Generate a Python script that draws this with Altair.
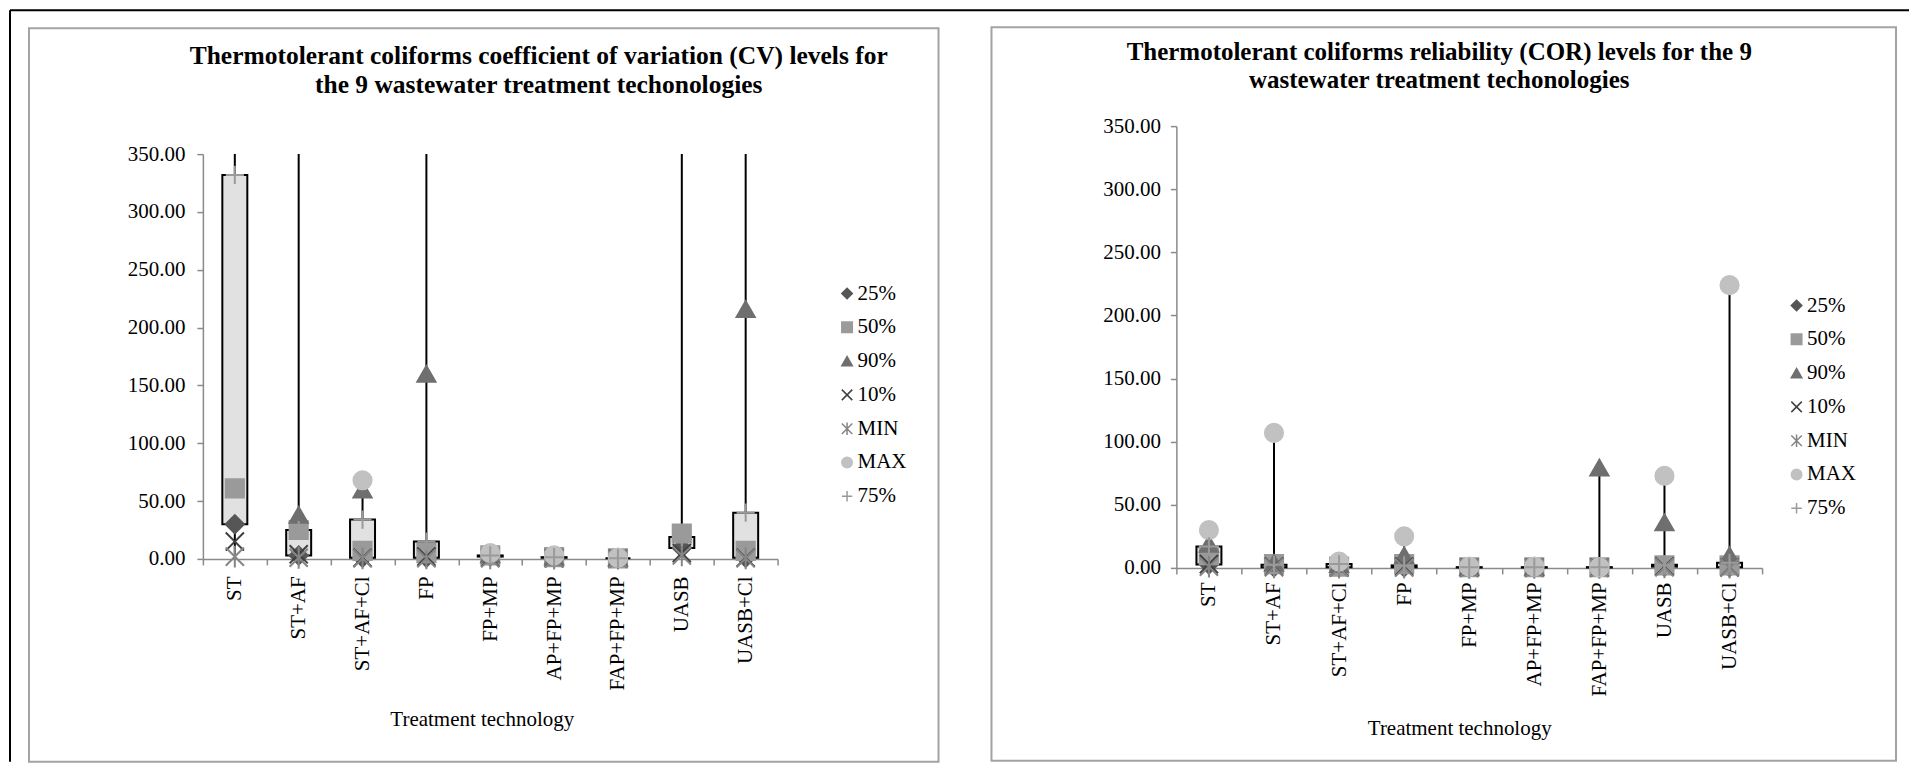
import altair as alt
import pandas as pd

cats = ["ST", "ST+AF", "ST+AF+Cl", "FP", "FP+MP", "AP+FP+MP", "FAP+FP+MP", "UASB", "UASB+Cl"]
series = ["25%", "50%", "90%", "10%", "MIN", "MAX", "75%"]

# Left panel: coefficient of variation (CV); values above 350 are off the axis
cv_p25 = [30, 3, 1, 1, 2, 1, 0.5, 9.5, 1]
cv_p50 = [61, 25, 7, 5, 3, 1.5, 0.5, 22, 7]
cv_p90 = [420, 38, 60, 160, 4, 2, 1, 400, 216]
cv_p10 = [15, 4, 1, 2, 1, 0.5, 0.3, 5, 1]
cv_min = [2, 1, 0.5, 0.5, 0.5, 0.3, 0.2, 3, 0.5]
cv_max = [520, 450, 68, 400, 5, 3, 1, 480, 460]
cv_p75 = [332, 25, 34, 15, 3, 1.5, 0.5, 19, 40]

# Right panel: reliability (COR)
cor_p25 = [2.6, 0.5, 0.5, 0.5, 0.3, 0.3, 0.3, 1, 0.5]
cor_p50 = [10, 3, 1, 3, 0.5, 0.5, 0.5, 2, 2]
cor_p90 = [19, 4, 3, 10, 0.8, 0.8, 79.5, 36, 10]
cor_p10 = [3, 1, 0.5, 1, 0.2, 0.2, 0.2, 1, 0.5]
cor_min = [1, 0.5, 0.2, 0.3, 0.1, 0.1, 0.1, 0.5, 0.2]
cor_max = [30, 107, 5, 25, 1, 1, 0.5, 73, 224]
cor_p75 = [17, 2.5, 3, 2, 0.6, 0.6, 0.6, 2.5, 4]

y_ticks = [0, 50, 100, 150, 200, 250, 300, 350]

shape_range = [
    "diamond", "square", "triangle-up",
    "M-1,-1L1,1M-1,1L1,-1",
    "M-1,-1L1,1M-1,1L1,-1M0,-1.2L0,1.2",
    "circle",
    "M-1,0L1,0M0,-1L0,1",
]
color_range = ["#565656", "#9a9a9a", "#6f6f6f", "#3f3f3f", "#858585", "#c1c1c1", "#9a9a9a"]

FONT = "Liberation Serif"


def panel(vals, width, height, yrange, frame, title_lines, title_pos, title_lh, title_size,
          legend_pos, ylab_pad, xlab_pad, xtitle_pos, extra=None):
    p25, p50, p90, p10, mn, mx, p75 = vals
    wide = pd.DataFrame({
        "cat": cats, "p25": p25, "p75": p75,
        "lo": [min(v) for v in zip(*vals)],
        "hi": [max(v) for v in zip(*vals)],
    })
    rows = []
    for s, arr in zip(series, vals):
        for c, v in zip(cats, arr):
            rows.append({"cat": c, "series": s, "value": v})
    long_df = pd.DataFrame(rows)
    one = pd.DataFrame({"k": [0]})

    yscale = alt.Scale(domain=[0, 350], range=yrange, clamp=True, nice=False)
    xscale = alt.Scale(type="band", domain=cats, paddingInner=0, paddingOuter=0)
    xaxis = alt.Axis(labelAngle=-90, tickBand="extent", title="Treatment technology",
                     labelPadding=xlab_pad, titleX=xtitle_pos[0], titleY=xtitle_pos[1],
                     titleBaseline="alphabetic", titleAlign="center", labelOverlap=False)
    yaxis = alt.Axis(values=y_ticks, format=".2f", title=None, labelPadding=ylab_pad)

    legend = alt.Legend(title=None, orient="none", legendX=legend_pos[0], legendY=legend_pos[1],
                        symbolSize=110, symbolStrokeWidth=1.5, rowPadding=11.8,
                        labelOffset=0, padding=0, labelFont=FONT, labelFontSize=21,
                        labelColor="black")

    frame_layer = alt.Chart(one).mark_rect(fill="white", fillOpacity=0, stroke="#a3a3a3",
                                           strokeWidth=2).encode(
        x=alt.value(frame[0]), x2=alt.value(frame[1]),
        y=alt.value(frame[2]), y2=alt.value(frame[3]))

    title_layer = alt.Chart(one).mark_text(
        text=title_lines, font=FONT, fontSize=title_size, fontWeight="bold", align="center",
        baseline="alphabetic", lineHeight=title_lh, color="black").encode(
        x=alt.value(title_pos[0]), y=alt.value(title_pos[1]))

    rule_layer = alt.Chart(wide).mark_rule(color="black", strokeWidth=2).encode(
        x=alt.X("cat:N", scale=xscale, axis=xaxis),
        y=alt.Y("lo:Q", scale=yscale, axis=yaxis),
        y2="hi:Q")

    bar_layer = alt.Chart(wide).mark_bar(size=25, fill="#e1e1e1", stroke="black",
                                         strokeWidth=2).encode(
        x=alt.X("cat:N", scale=xscale, axis=xaxis),
        y=alt.Y("p25:Q", scale=yscale, axis=yaxis),
        y2="p75:Q")

    point_layer = alt.Chart(long_df).transform_filter(
        alt.datum.value <= 350).mark_point(opacity=1, size=330, strokeWidth=2).encode(
        x=alt.X("cat:N", scale=xscale, axis=xaxis),
        y=alt.Y("value:Q", scale=yscale, axis=yaxis),
        shape=alt.Shape("series:N", scale=alt.Scale(domain=series, range=shape_range), legend=legend),
        fill=alt.Fill("series:N", scale=alt.Scale(domain=series, range=color_range), legend=legend),
        stroke=alt.Stroke("series:N", scale=alt.Scale(domain=series, range=color_range), legend=legend),
    )

    layers = [frame_layer]
    if extra is not None:
        layers += extra
    layers += [title_layer, rule_layer, bar_layer, point_layer]
    return alt.layer(*layers).properties(width=width, height=height)


one_df = pd.DataFrame({"k": [0]})
outer = [
    alt.Chart(one_df).mark_rule(color="black", strokeWidth=2).encode(
        x=alt.value(-193), y=alt.value(-116), y2=alt.value(636)),
    alt.Chart(one_df).mark_rule(color="black", strokeWidth=2).encode(
        x=alt.value(-193), x2=alt.value(1707), y=alt.value(-116)),
]

left = panel(
    [cv_p25, cv_p50, cv_p90, cv_p10, cv_min, cv_max, cv_p75],
    575, 433, [433, 28], (-174, 736, -98, 636),
    ["Thermotolerant coliforms coefficient of variation (CV) levels for",
     "the 9 wastewater treatment techonologies"],
    (336, -62), 28.5, 25.5, (634, 157), 12, 11, (279, 167), extra=outer)

right = panel(
    [cor_p25, cor_p50, cor_p90, cor_p10, cor_min, cor_max, cor_p75],
    586, 442, [442, 0], (-185, 720, -99, 635),
    ["Thermotolerant coliforms reliability (COR) levels for the 9",
     "wastewater treatment techonologies"],
    (263, -66), 27.5, 25, (610, 169), 10, 8, (283, 167))

chart = alt.hconcat(left, right, spacing=399, bounds="flush").resolve_scale(
    shape="independent", fill="independent", stroke="independent", y="independent", x="independent"
).resolve_legend(
    shape="independent", fill="independent", stroke="independent"
).properties(padding=0).configure_view(stroke="transparent").configure_axis(
    labelFont=FONT, titleFont=FONT, labelFontSize=21, titleFontSize=21,
    labelColor="black", titleColor="black", titleFontWeight="normal",
    domainColor="#8a8a8a", tickColor="#8a8a8a", domainWidth=1.5, tickWidth=1.5,
    tickSize=6, grid=False)

chart.save("out.html", embed_options={"renderer": "svg", "actions": False})
